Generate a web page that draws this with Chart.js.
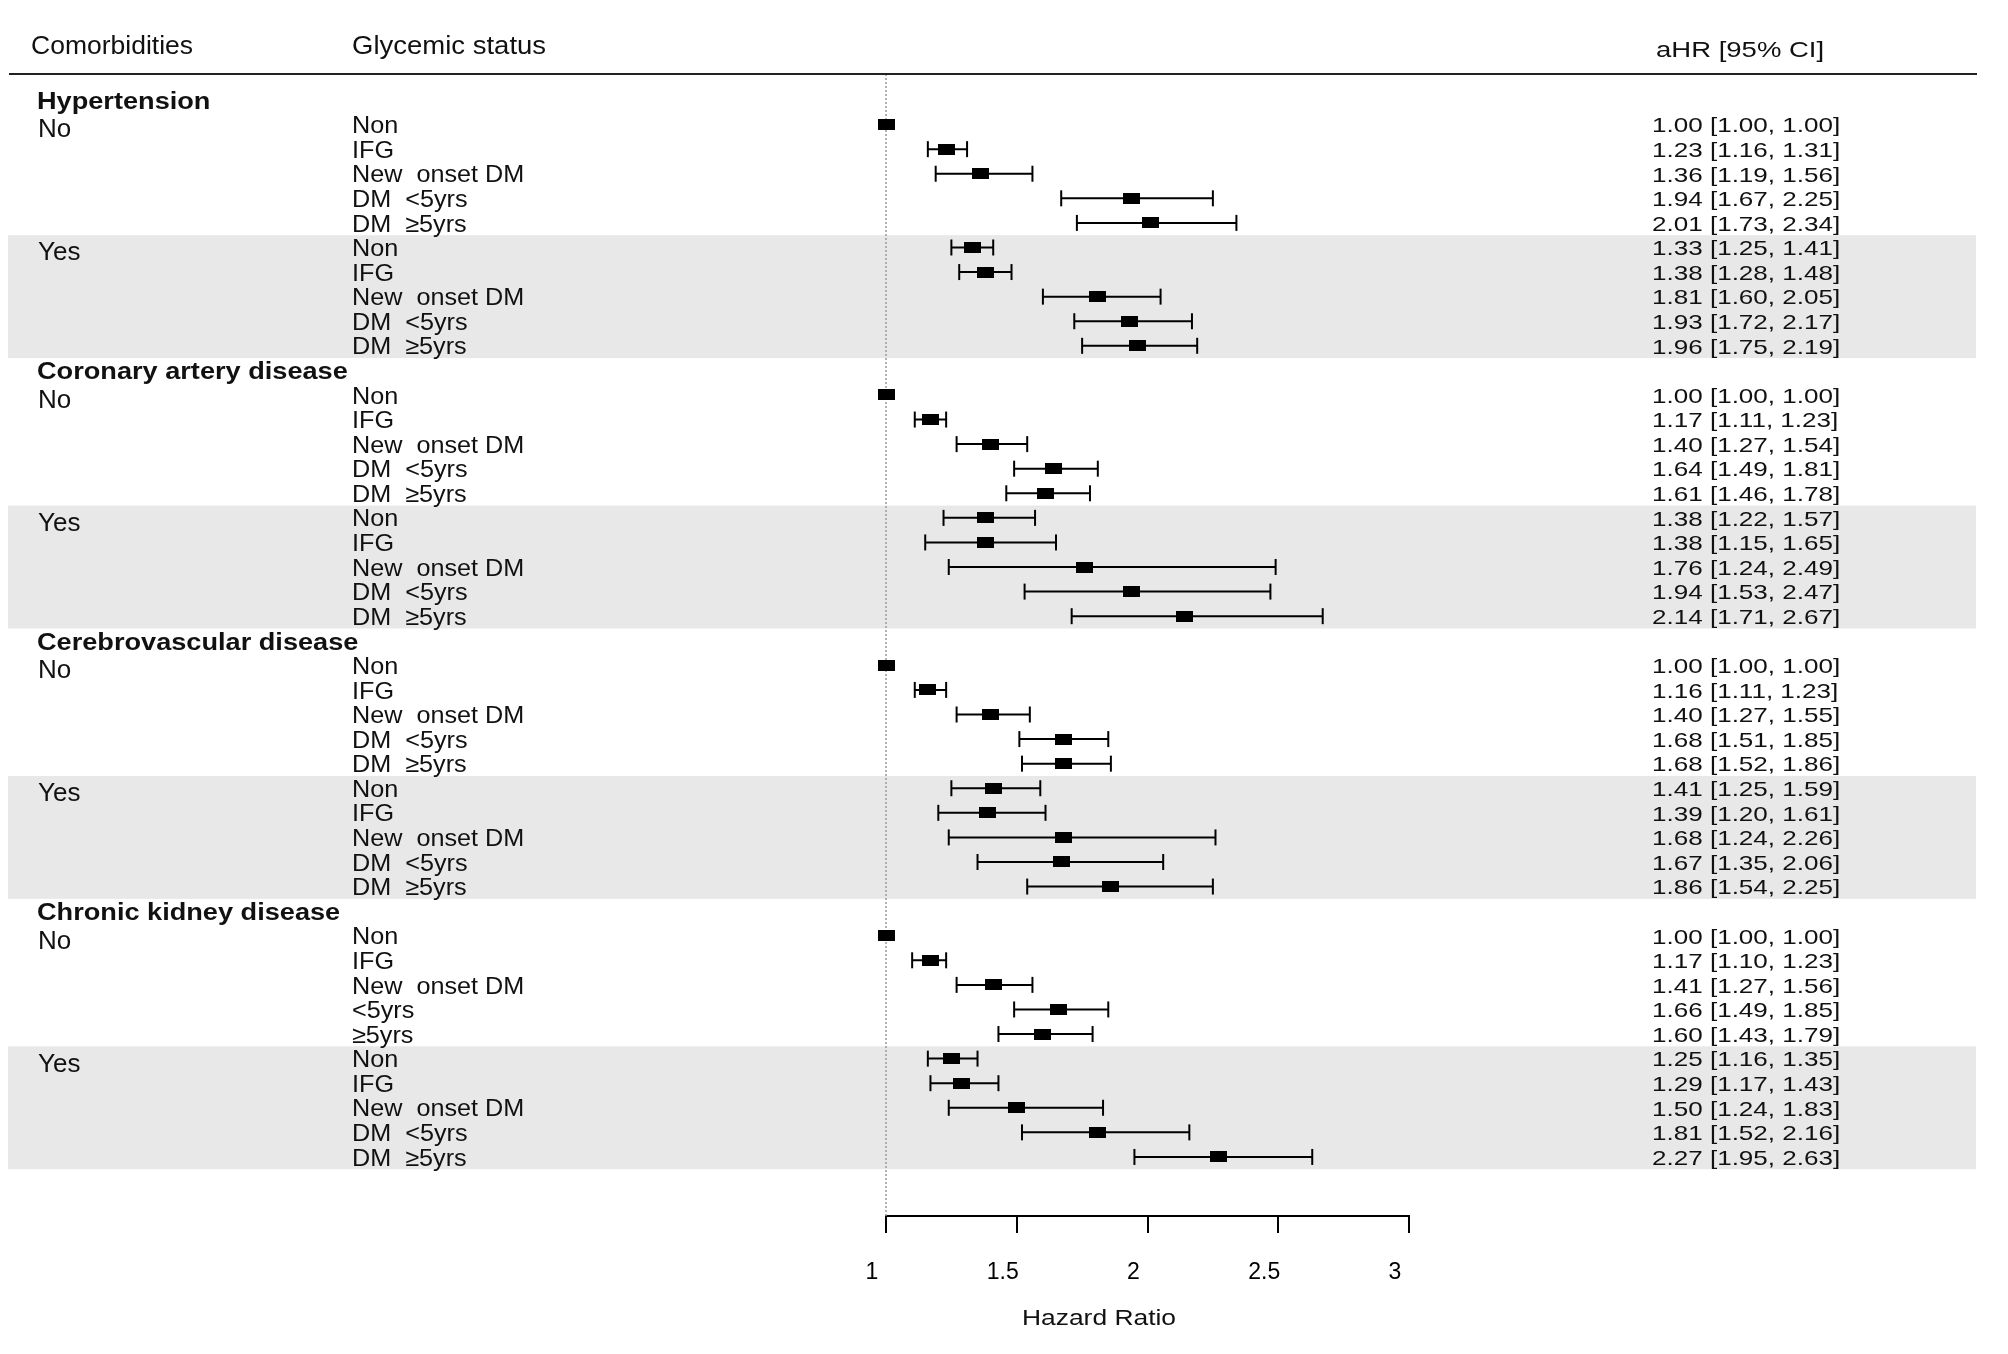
<!DOCTYPE html>
<html>
<head>
<meta charset="utf-8">
<script src="https://cdn.jsdelivr.net/npm/chart.js@4.4.0/dist/chart.umd.min.js"></script>
<style>
  html, body { margin: 0; padding: 0; background: #fff; }
  canvas { display: block; }
</style>
</head>
<body>
<canvas id="forest" width="2008" height="1354"></canvas>
<script>
// данные
const diseases = ['Hypertension', 'Coronary artery disease', 'Cerebrovascular disease', 'Chronic kidney disease'];
const strata = ['No', 'Yes'];
const glycemic = ['Non', 'IFG', 'New  onset DM', 'DM  <5yrs', 'DM  ≥5yrs'];
const glycemicCkdNo = ['Non', 'IFG', 'New  onset DM', '<5yrs', '≥5yrs'];

// aHR по порядку: болезнь -> No / Yes -> статус
const hr = [
  1.00, 1.23, 1.36, 1.94, 2.01,  1.33, 1.38, 1.81, 1.93, 1.96,
  1.00, 1.17, 1.40, 1.64, 1.61,  1.38, 1.38, 1.76, 1.94, 2.14,
  1.00, 1.16, 1.40, 1.68, 1.68,  1.41, 1.39, 1.68, 1.67, 1.86,
  1.00, 1.17, 1.41, 1.66, 1.60,  1.25, 1.29, 1.50, 1.81, 2.27,
];
const lower = [
  1.00, 1.16, 1.19, 1.67, 1.73,  1.25, 1.28, 1.60, 1.72, 1.75,
  1.00, 1.11, 1.27, 1.49, 1.46,  1.22, 1.15, 1.24, 1.53, 1.71,
  1.00, 1.11, 1.27, 1.51, 1.52,  1.25, 1.20, 1.24, 1.35, 1.54,
  1.00, 1.10, 1.27, 1.49, 1.43,  1.16, 1.17, 1.24, 1.52, 1.95,
];
const upper = [
  1.00, 1.31, 1.56, 2.25, 2.34,  1.41, 1.48, 2.05, 2.17, 2.19,
  1.00, 1.23, 1.54, 1.81, 1.78,  1.57, 1.65, 2.49, 2.47, 2.67,
  1.00, 1.23, 1.55, 1.85, 1.86,  1.59, 1.61, 2.26, 2.06, 2.25,
  1.00, 1.23, 1.56, 1.85, 1.79,  1.35, 1.43, 1.83, 2.16, 2.63,
];
const xMin = 1, xMax = 3, xStep = 0.5;

// раскладка
const W = 2008, H = 1354;
const ROW0 = 100, ROW_H = 24.58;
const TOP = 74, AXIS_Y = 1216;
const PLOT_L = 886, PLOT_R = 1409;
const FONT = '"Liberation Sans", Arial, sans-serif';

// строка на оси y: заголовок болезни + 10 строк
const rowOf = i => Math.floor(i / 10) * 11 + 1 + (i % 10);

const points = hr.map((v, i) => ({ x: v, y: rowOf(i) }));
const whiskers = [];
const caps = [];
hr.forEach((v, i) => {
  if (lower[i] === upper[i]) return;
  const r = rowOf(i);
  whiskers.push({ x: lower[i], y: r }, { x: upper[i], y: r }, { x: upper[i], y: null });
  caps.push({ x: lower[i], y: r }, { x: upper[i], y: r });
});

// квадрат точки
const box = document.createElement('canvas');
box.width = 17;
box.height = 11;
box.getContext('2d').fillRect(0, 0, 17, 11);

function txt(ctx, s, x, y, size, opts = {}) {
  ctx.save();
  ctx.font = `${opts.bold ? 'bold ' : ''}${size}px ${FONT}`;
  ctx.fillStyle = '#111';
  ctx.textBaseline = 'middle';
  ctx.textAlign = opts.align || 'left';
  ctx.translate(x, y);
  ctx.scale(opts.sx || 1, 1);
  ctx.fillText(s, 0, 0);
  ctx.restore();
}

// фон полос Yes
const bandsPlugin = {
  id: 'bands',
  beforeDraw(chart) {
    const { ctx } = chart;
    const y = chart.scales.y;
    ctx.save();
    ctx.fillStyle = '#e8e8e8';
    diseases.forEach((d, k) => {
      const y0 = y.getPixelForValue(k * 11 + 6) - ROW_H / 2;
      const y1 = y.getPixelForValue(k * 11 + 10) + ROW_H / 2;
      ctx.fillRect(8, y0, 1968, y1 - y0);
    });
    ctx.restore();
  },
  beforeDatasetsDraw(chart) {
    const { ctx } = chart;
    const x1 = chart.scales.x.getPixelForValue(1);
    ctx.save();
    ctx.strokeStyle = '#999';
    ctx.lineWidth = 1.5;
    ctx.setLineDash([2, 2]);
    ctx.beginPath();
    ctx.moveTo(x1, TOP);
    ctx.lineTo(x1, AXIS_Y);
    ctx.stroke();
    ctx.restore();
  },
};

// текстовые колонки
const textPlugin = {
  id: 'texts',
  afterDraw(chart) {
    const { ctx } = chart;
    const y = chart.scales.y;

    ctx.save();
    ctx.strokeStyle = '#222';
    ctx.lineWidth = 2;
    ctx.beginPath();
    ctx.moveTo(9, TOP);
    ctx.lineTo(1977, TOP);
    ctx.stroke();
    ctx.restore();

    txt(ctx, 'Comorbidities', 31, 47.5, 25, { sx: 1.06 });
    txt(ctx, 'Glycemic status', 352, 47.5, 25, { sx: 1.1 });
    txt(ctx, 'aHR [95% CI]', 1656, 50.5, 22, { sx: 1.25 });

    diseases.forEach((d, k) => {
      txt(ctx, d, 37, y.getPixelForValue(k * 11) + 2.5, 23, { bold: true, sx: 1.18 });
      strata.forEach((s, g) => {
        txt(ctx, s, 38, y.getPixelForValue(k * 11 + 1 + g * 5) + 6, 25, { sx: 1.04 });
      });
    });

    hr.forEach((v, i) => {
      const d = Math.floor(i / 10);
      const s = i % 10;
      const labels = d === 3 && s < 5 ? glycemicCkdNo : glycemic;
      const py = y.getPixelForValue(rowOf(i));
      txt(ctx, labels[s % 5], 352, py + 2, 24, { sx: 1.05 });
      txt(ctx, `${v.toFixed(2)} [${lower[i].toFixed(2)}, ${upper[i].toFixed(2)}]`, 1652, py + 2, 21, { sx: 1.24 });
    });

    txt(ctx, 'Hazard Ratio', 1099, 1319, 22, { sx: 1.2, align: 'center' });
  },
};

new Chart(document.getElementById('forest'), {
  type: 'scatter',
  data: {
    datasets: [
      {
        type: 'line',
        data: whiskers,
        borderColor: '#000',
        borderWidth: 2,
        pointRadius: 0,
        spanGaps: false,
        fill: false,
        tension: 0,
        clip: false,
      },
      {
        data: caps,
        pointStyle: 'line',
        rotation: 90,
        radius: 8,
        borderColor: '#000',
        borderWidth: 2,
        clip: false,
      },
      {
        data: points,
        pointStyle: box,
        radius: 8,
        clip: false,
      },
    ],
  },
  options: {
    responsive: false,
    animation: false,
    events: [],
    layout: { padding: { left: PLOT_L, right: W - PLOT_R, top: TOP, bottom: 0 } },
    plugins: { legend: { display: false }, tooltip: { enabled: false } },
    scales: {
      x: {
        type: 'linear',
        min: xMin,
        max: xMax,
        afterFit: scale => { scale.height = H - AXIS_Y; },
        ticks: {
          stepSize: xStep,
          color: '#000',
          font: { family: FONT, size: 23 },
          padding: 26,
          labelOffset: -14,
          callback: v => String(v),
        },
        grid: { drawOnChartArea: false, drawTicks: true, tickLength: 17, color: '#000', lineWidth: 2 },
        border: { display: true, color: '#000', width: 2 },
      },
      y: {
        type: 'linear',
        display: false,
        reverse: true,
        min: (TOP - ROW0) / ROW_H,
        max: (AXIS_Y - ROW0) / ROW_H,
      },
    },
  },
  plugins: [bandsPlugin, textPlugin],
});
</script>
</body>
</html>
